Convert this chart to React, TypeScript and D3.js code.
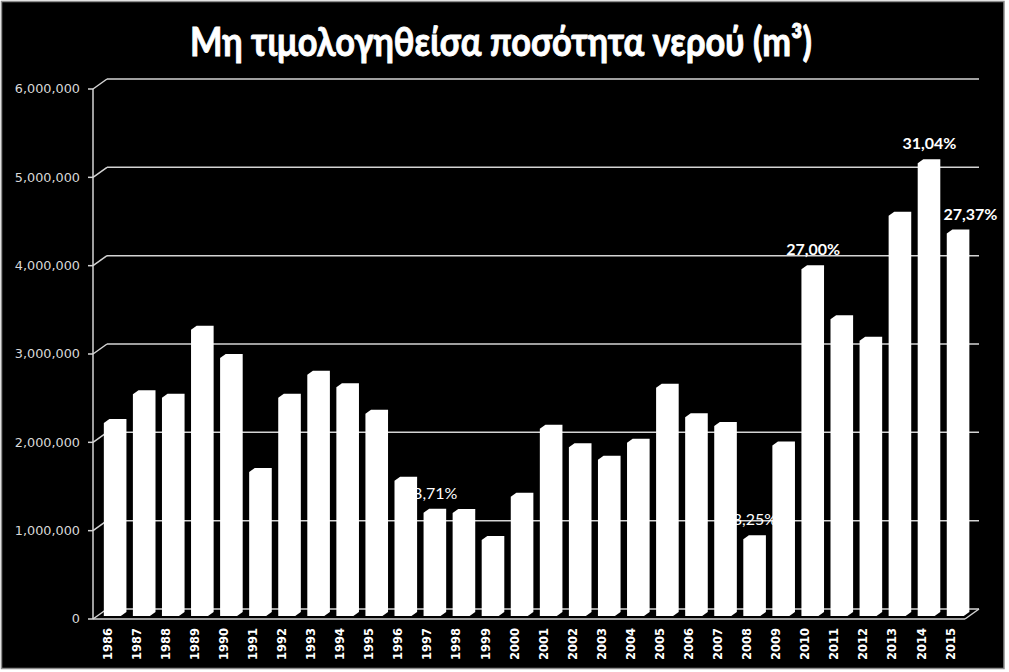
import React from 'react';
import * as d3 from 'd3';

const years = ['1986','1987','1988','1989','1990','1991','1992','1993','1994','1995','1996','1997','1998','1999','2000','2001','2002','2003','2004','2005','2006','2007','2008','2009','2010','2011','2012','2013','2014','2015'];
const values = [2185000,2510000,2470000,3240000,2920000,1630000,2470000,2730000,2590000,2290000,1530000,1170000,1165000,860000,1350000,2120000,1910000,1770000,1960000,2585000,2250000,2150000,870000,1930000,3925000,3360000,3115000,4530000,5125000,4330000];
const labelYears = ['1997','2008','2010','2014','2015'];
const labelTexts = ['8,71%','8,25%','27,00%','31,04%','27,37%'];
const labelBold = [false,false,true,true,true];
const yTicks = [0,1000000,2000000,3000000,4000000,5000000,6000000];
const title = 'Μη τιμολογηθείσα ποσότητα νερού (m³)';

const W = 1009, H = 672;
const FX0 = 93, FX1 = 965, FY0 = 619, FY1 = 89;
const DX = 14, DY = -10;
const BF = 0.3, BB = 0.7;
const GRID = '#d4d4d4';

export default function App() {
  const x = d3.scaleBand<string>().domain(years).range([FX0, FX1]).padding(0);
  const y = d3.scaleLinear().domain([0, 6000000]).range([FY0, FY1]);
  const fmt = d3.format(',');
  const bw = 17;
  const ox1 = DX * BF, oy1 = DY * BF;
  const ddx = DX * (BB - BF), ddy = DY * (BB - BF);
  const bc = (yr: string) => (x(yr) as number) + x.bandwidth() / 2;

  const barPath = (yr: string, v: number) => {
    const cx = bc(yr) + ox1 + 0.6;
    const xl = cx - bw / 2, xr = cx + bw / 2;
    const yt = y(v) + oy1, yb = y(0) + oy1;
    const p = d3.path();
    p.moveTo(xl, yb);
    p.lineTo(xl, yt);
    p.lineTo(xl + ddx, yt + ddy);
    p.lineTo(xr + ddx, yt + ddy);
    p.lineTo(xr + ddx, yb + ddy);
    p.lineTo(xr, yb);
    p.closePath();
    return p.toString();
  };

  return (
    <svg width={W} height={H} style={{ position: 'absolute', left: 0, top: 0 }}>
      <rect x={0} y={0} width={W} height={H} fill="#ffffff" />
      <rect x={1.5} y={1.5} width={1002.5} height={667} fill="#000000" stroke="#8c8c8c" strokeWidth={1.5} />
      <text x={501} y={56} fill="#ffffff" stroke="#ffffff" strokeWidth={0.9} fontFamily="Lato, 'Open Sans', sans-serif" fontWeight={700} fontSize={40}
        textAnchor="middle" textLength={622} lengthAdjust="spacingAndGlyphs">{title}</text>

      {yTicks.map(t => (
        <g key={t}>
          <line x1={FX0 + DX} x2={FX1 + DX} y1={y(t) + DY} y2={y(t) + DY} stroke={GRID} strokeWidth={1.5} />
          <line x1={FX0} x2={FX0 + DX} y1={y(t)} y2={y(t) + DY} stroke={GRID} strokeWidth={1.5} />
          <line x1={FX0 - 5} x2={FX0} y1={y(t)} y2={y(t)} stroke={GRID} strokeWidth={1.5} />
          <text x={80} y={y(t)} dy="0.35em" textAnchor="end" fill="#d9d9d9"
            fontFamily="'DejaVu Sans', Verdana, sans-serif" fontSize={12.8}>{fmt(t)}</text>
        </g>
      ))}
      <line x1={FX0} x2={FX0} y1={FY1} y2={FY0} stroke={GRID} strokeWidth={1.5} />
      <line x1={FX0} x2={FX1} y1={FY0} y2={FY0} stroke={GRID} strokeWidth={1.5} />
      <line x1={FX1} x2={FX1 + DX} y1={FY0} y2={FY0 + DY} stroke={GRID} strokeWidth={1.5} />

      {years.map((yr, i) => (
        <path key={yr} d={barPath(yr, values[i])} fill="#ffffff" />
      ))}

      {years.map(yr => (
        <text key={'l' + yr} transform={`translate(${bc(yr)},628) rotate(-90)`} textAnchor="end" dy="0.36em"
          fill="#ffffff" fontFamily="'DejaVu Sans', Verdana, sans-serif" fontWeight={700} fontSize={11.5}>{yr}</text>
      ))}

      {labelYears.map((yr, i) => {
        const v = values[years.indexOf(yr)];
        const edge = i === labelYears.length - 1 ? 12 : 0;
        return (
          <text key={'d' + yr} x={bc(yr) + ox1 + ddx / 2 + 1 + edge} y={y(v) + DY * BB - 10} textAnchor="middle" fill="#ffffff"
            fontFamily="Lato, 'Open Sans', sans-serif" fontWeight={labelBold[i] ? 700 : 400} fontSize={16}>{labelTexts[i]}</text>
        );
      })}
    </svg>
  );
}
